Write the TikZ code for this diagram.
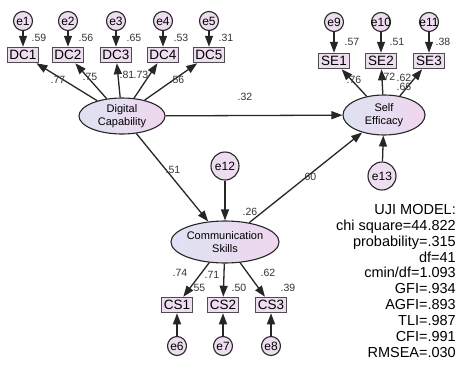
\documentclass[tikz,border=0pt]{standalone}
\usepackage{fontspec}
\setmainfont{Liberation Sans}
\usetikzlibrary{shapes.geometric,arrows.meta}

\definecolor{boxfill}{HTML}{EEDDF0}
\definecolor{errfill}{HTML}{EEDCF0}
\definecolor{latleft}{HTML}{DEE2F2}
\definecolor{latright}{HTML}{F0D6EE}

\begin{document}
\begin{tikzpicture}[x=1pt,y=-1pt,
  obs/.style={draw=black!70, line width=1.5pt, fill=boxfill, minimum width=31pt,
    minimum height=15pt, inner sep=0pt, font=\fontsize{13.5}{13.5}\selectfont},
  err/.style={circle, draw=black!85, line width=1.1pt, fill=errfill,
    minimum size=19pt, inner sep=0pt, font=\fontsize{12}{12}\selectfont},
  bigerr/.style={err, minimum size=28pt},
  lat/.style={ellipse, draw=black!85, line width=1.1pt, left color=latleft,
    right color=latright, inner sep=0pt, align=center,
    font=\fontsize{11}{12.5}\selectfont},
  arr/.style={draw=black!85, line width=1.3pt, -{Triangle[length=11pt,width=8pt]}},
  coef/.style={font=\fontsize{10.5}{11}\selectfont, text=black!80, inner sep=0pt},
]
\useasboundingbox (0,0) rectangle (461,365);

% latent variables
\node[lat, minimum width=86pt, minimum height=36pt] (dc) at (122,116) {Digital\\Capability};
\node[lat, minimum width=82pt, minimum height=40pt] (se) at (384,115) {Self\\Efficacy};
\node[lat, minimum width=91pt, minimum height=42pt] (cs) at (225,242) {Communication\\Skills};

% indicators of Digital Capability
\foreach \i/\x in {1/23,2/68,3/116,4/163,5/209}{
  \node[obs] (dc\i) at (\x,55) {DC\i};
  \node[err] (e\i) at (\x,21) {\makebox[0pt]{e\i}};
  \draw[arr] (e\i) -- (dc\i);
  \draw[arr] (dc) -- (dc\i);
}

% indicators of Self Efficacy
\foreach \i/\x/\e in {1/334/9,2/381/10,3/429/11}{
  \node[obs] (se\i) at (\x,61) {SE\i};
  \node[err] (e\e) at (\x,22) {\makebox[0pt]{e\e}};
  \draw[arr] (e\e) -- (se\i);
  \draw[arr] (se) -- (se\i);
}

% indicators of Communication Skills
\foreach \i/\x/\e in {1/177/6,2/223/7,3/271/8}{
  \node[obs] (cs\i) at (\x,305) {CS\i};
  \node[err] (e\e) at (\x,346) {\makebox[0pt]{e\e}};
  \draw[arr] (e\e) -- (cs\i);
  \draw[arr] (cs) -- (cs\i);
}

% disturbances
\node[bigerr] (e12) at (225,166) {e12};
\node[bigerr] (e13) at (382,176) {e13};
\draw[arr] (e12) -- (cs);
\draw[arr] (e13) -- (se);

% structural paths
\draw[arr] (dc) -- (se);
\draw[arr] (dc) -- (cs);
\draw[arr] (cs) -- (se);

% coefficients
\foreach \t/\x/\y in {.59/39/38,.56/86/38,.65/134/38,.53/181/38,.31/226/38,
  .77/58/80,.75/90/77,.81/127/75,.73/141/75,.56/177/80,
  .57/352/42,.51/397/42,.38/443/42,.76/354/80,.72/388/77,.62/404/78,.66/404/87,
  .32/245/97,.51/173/170,.26/250/212,.60/309/177,
  .74/180/273,.71/212/275,.62/268/273,.55/198/288,.50/239/288,.39/288/288}{
  \node[coef] at (\x,\y) {\t};
}

% model fit summary
\node[anchor=north east, align=right, inner sep=0pt,
  font=\fontsize{14.5}{15.9}\selectfont] (fit) at (456,204)
  {UJI MODEL:\\chi square=44.822\\probability=.315\\df=41\\cmin/df=1.093\\GFI=.934\\AGFI=.893\\TLI=.987\\CFI=.991\\RMSEA=.030};
\end{tikzpicture}
\end{document}
